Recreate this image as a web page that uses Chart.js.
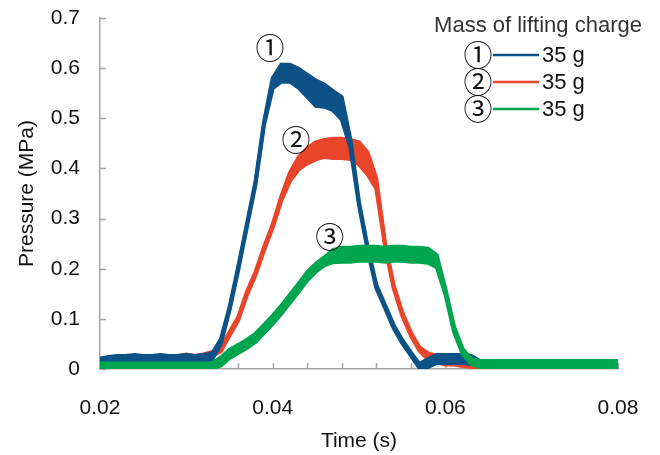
<!DOCTYPE html>
<html>
<head>
<meta charset="utf-8">
<script src="https://cdn.jsdelivr.net/npm/chart.js@4.4.1/dist/chart.umd.min.js"></script>
<style>
  html, body { margin: 0; padding: 0; background: #fff; }
  #wrap { width: 660px; height: 455px; }
</style>
</head>
<body>
<div id="wrap"><canvas id="myChart"></canvas></div>
<script>
// Time axis (s), one reading every 1 ms
const times = [
  0.020, 0.021, 0.022, 0.023, 0.024, 0.025, 0.026, 0.027, 0.028, 0.029,
  0.030, 0.031, 0.032, 0.033, 0.034, 0.035, 0.036, 0.037, 0.038, 0.039,
  0.040, 0.041, 0.042, 0.043, 0.044, 0.045, 0.046, 0.047, 0.048, 0.049,
  0.050, 0.051, 0.052, 0.053, 0.054, 0.055, 0.056, 0.057, 0.058, 0.059,
  0.060, 0.061, 0.062, 0.063, 0.064, 0.065, 0.066, 0.067, 0.068, 0.069,
  0.070, 0.071, 0.072, 0.073, 0.074, 0.075, 0.076, 0.077, 0.078, 0.079,
  0.080,
];

const pressure1 = [
  0.015, 0.018, 0.02, 0.02, 0.022, 0.02, 0.02, 0.022, 0.02, 0.02,
  0.022, 0.02, 0.022, 0.025, 0.055, 0.12, 0.20, 0.285, 0.37, 0.49,
  0.57, 0.59, 0.59, 0.58, 0.565, 0.55, 0.545, 0.535, 0.52, 0.45,
  0.33, 0.24, 0.165, 0.125, 0.085, 0.055, 0.03, 0.006, 0.012, 0.02,
  0.02, 0.02, 0.02, 0.018, 0.012, 0.012, 0.012, 0.012, 0.012, 0.012,
  0.012, 0.012, 0.012, 0.012, 0.012, 0.012, 0.012, 0.012, 0.012, 0.012,
  0.012,
];
const pressure2 = [
  0.012, 0.012, 0.015, 0.015, 0.018, 0.02, 0.02, 0.022, 0.02, 0.022,
  0.025, 0.022, 0.025, 0.03, 0.04, 0.07, 0.10, 0.15, 0.19, 0.24,
  0.285, 0.34, 0.383, 0.41, 0.425, 0.435, 0.44, 0.44, 0.44, 0.438,
  0.43, 0.41, 0.37, 0.25, 0.165, 0.11, 0.07, 0.04, 0.025, 0.02,
  0.015, 0.015, 0.012, 0.01, 0.008, 0.008, 0.008, 0.008, 0.008, 0.008,
  0.008, 0.008, 0.008, 0.008, 0.008, 0.008, 0.008, 0.008, 0.008, 0.008,
  0.008,
];
const pressure3 = [
  0.006, 0.006, 0.006, 0.006, 0.006, 0.006, 0.006, 0.006, 0.006, 0.006,
  0.006, 0.006, 0.006, 0.006, 0.015, 0.03, 0.04, 0.05, 0.062, 0.08,
  0.098, 0.118, 0.14, 0.162, 0.185, 0.202, 0.215, 0.225, 0.228, 0.228,
  0.23, 0.23, 0.23, 0.228, 0.23, 0.23, 0.228, 0.228, 0.226, 0.215,
  0.155, 0.08, 0.035, 0.015, 0.01, 0.01, 0.01, 0.01, 0.01, 0.01,
  0.01, 0.01, 0.01, 0.01, 0.01, 0.01, 0.01, 0.01, 0.01, 0.01,
  0.01,
];

// half-width of the noise band around each trace (MPa)
const spread1 = [
  0.006, 0.006, 0.006, 0.006, 0.006, 0.006, 0.006, 0.006, 0.006, 0.006,
  0.006, 0.006, 0.006, 0.006, 0.004, 0.003, 0.003, 0.003, 0.003, 0.003,
  0.01, 0.017, 0.017, 0.019, 0.022, 0.025, 0.022, 0.019, 0.022, 0.008,
  0.003, 0.003, 0.003, 0.003, 0.003, 0.003, 0.003, 0.004, 0.008, 0.008,
  0.008, 0.008, 0.008, 0.008, 0.004, 0.004, 0.004, 0.004, 0.004, 0.004,
  0.004, 0.004, 0.004, 0.004, 0.004, 0.004, 0.004, 0.004, 0.004, 0.004,
  0.004,
];
const spread2 = [
  0.004, 0.004, 0.004, 0.004, 0.004, 0.004, 0.004, 0.004, 0.004, 0.004,
  0.004, 0.004, 0.004, 0.004, 0.004, 0.003, 0.003, 0.003, 0.003, 0.003,
  0.003, 0.004, 0.008, 0.012, 0.015, 0.017, 0.017, 0.019, 0.019, 0.019,
  0.022, 0.022, 0.01, 0.003, 0.003, 0.003, 0.003, 0.003, 0.006, 0.006,
  0.006, 0.006, 0.006, 0.006, 0.004, 0.004, 0.004, 0.004, 0.004, 0.004,
  0.004, 0.004, 0.004, 0.004, 0.004, 0.004, 0.004, 0.004, 0.004, 0.004,
  0.004,
];
const spread3 = [
  0.005, 0.005, 0.005, 0.005, 0.005, 0.005, 0.005, 0.005, 0.005, 0.005,
  0.005, 0.005, 0.005, 0.005, 0.008, 0.008, 0.008, 0.008, 0.008, 0.008,
  0.008, 0.008, 0.008, 0.008, 0.008, 0.008, 0.008, 0.012, 0.014, 0.014,
  0.014, 0.014, 0.014, 0.014, 0.014, 0.014, 0.014, 0.014, 0.014, 0.012,
  0.005, 0.005, 0.005, 0.005, 0.006, 0.006, 0.006, 0.006, 0.006, 0.006,
  0.006, 0.006, 0.006, 0.006, 0.006, 0.006, 0.006, 0.006, 0.006, 0.006,
  0.006,
];

const seriesMarks = ["①", "②", "③"];
const seriesLabels = ["35 g", "35 g", "35 g"];
const seriesColors = ["#0d5287", "#e8452a", "#00a54f"];
const legendTitle = "Mass of lifting charge";
const xTickLabels = ["0.02", "0.04", "0.06", "0.08"];
// where the circled numbers sit on the plot, in data units [time, pressure]
const markSpots = [[0.0397, 0.64], [0.0427, 0.457], [0.0466, 0.263]];

const FONT = "'Liberation Sans', Arial, sans-serif";
const CJK = "'Noto Sans CJK JP', sans-serif";
const AXIS_GREY = "#a6a6a6";

const allSeries = [pressure1, pressure2, pressure3];
const allSpreads = [spread1, spread2, spread3];
// green on top, then blue, red underneath
const drawOrder = [1, 2, 0];

// each trace = upper edge filled down to lower edge
const datasets = [];
allSeries.forEach((vals, i) => {
  const common = {
    borderColor: seriesColors[i],
    backgroundColor: seriesColors[i],
    borderWidth: 4,
    pointRadius: 0,
    tension: 0,
    order: drawOrder[i],
  };
  datasets.push({
    ...common,
    label: seriesLabels[i],
    data: times.map((t, k) => ({ x: t, y: vals[k] + allSpreads[i][k] })),
    fill: "+1",
  });
  datasets.push({
    ...common,
    label: seriesLabels[i] + " low",
    data: times.map((t, k) => ({ x: t, y: Math.max(0, vals[k] - allSpreads[i][k]) })),
    fill: false,
  });
});

// inward tick marks, legend and circled labels
const extras = {
  id: "extras",
  beforeDatasetsDraw(chart) {
    const { ctx, chartArea, scales } = chart;
    ctx.save();
    ctx.strokeStyle = AXIS_GREY;
    ctx.lineWidth = 1.5;
    scales.x.ticks.forEach((tk) => {
      const px = Math.round(scales.x.getPixelForValue(tk.value)) + 0.5;
      ctx.beginPath();
      ctx.moveTo(px, chartArea.bottom);
      ctx.lineTo(px, chartArea.bottom - 6);
      ctx.stroke();
    });
    scales.y.ticks.forEach((tk) => {
      const py = Math.round(scales.y.getPixelForValue(tk.value)) + 0.5;
      ctx.beginPath();
      ctx.moveTo(chartArea.left, py);
      ctx.lineTo(chartArea.left + 6, py);
      ctx.stroke();
    });
    ctx.restore();
  },
  afterDraw(chart) {
    const { ctx, scales } = chart;
    ctx.save();
    ctx.fillStyle = "#111";
    ctx.textBaseline = "middle";

    // circled numbers on the curves
    ctx.textAlign = "center";
    ctx.font = "29px " + CJK;
    markSpots.forEach((p, i) => {
      ctx.fillText(seriesMarks[i], scales.x.getPixelForValue(p[0]), scales.y.getPixelForValue(p[1]));
    });

    // legend
    ctx.font = "22px " + FONT;
    ctx.fillStyle = "#333";
    ctx.fillText(legendTitle, 538, 26);
    seriesLabels.forEach((lab, i) => {
      const y = 55 + i * 27;
      ctx.fillStyle = "#111";
      ctx.font = "29px " + CJK;
      ctx.textAlign = "center";
      ctx.fillText(seriesMarks[i], 478, y);
      ctx.strokeStyle = seriesColors[i];
      ctx.lineWidth = 2.5;
      ctx.beginPath();
      ctx.moveTo(493, y);
      ctx.lineTo(539, y);
      ctx.stroke();
      ctx.font = "22px " + FONT;
      ctx.textAlign = "left";
      ctx.fillText(lab, 542, y + 1);
    });
    ctx.restore();
  },
};

const ctx = document.getElementById("myChart");

new Chart(ctx, {
  type: "line",
  data: { datasets },
  options: {
    responsive: true,
    maintainAspectRatio: false,
    animation: false,
    layout: { padding: { top: 18, right: 42, left: 0, bottom: 0 } },
    plugins: {
      legend: { display: false },
      tooltip: { enabled: false },
      filler: { drawTime: "beforeDatasetDraw" },
    },
    scales: {
      x: {
        type: "linear",
        min: 0.02,
        max: 0.08,
        grid: { display: false, drawTicks: false },
        border: { color: AXIS_GREY, width: 1.5 },
        ticks: {
          stepSize: 0.004,
          autoSkip: false,
          maxRotation: 0,
          padding: 27,
          color: "#111",
          font: { family: FONT, size: 21 },
          callback: (v) => {
            const hit = xTickLabels.find((s) => Math.abs(parseFloat(s) - v) < 1e-6);
            return hit || "";
          },
        },
        title: {
          display: true,
          text: "Time (s)",
          color: "#111",
          font: { family: FONT, size: 21 },
          padding: { top: 0, bottom: 1 },
        },
        afterFit: (s) => {
          s.height = 86;
          s.paddingLeft = 0;
          s.paddingRight = 0;
        },
      },
      y: {
        min: 0,
        max: 0.7,
        grid: { display: false, drawTicks: false },
        border: { color: AXIS_GREY, width: 1.5 },
        ticks: {
          stepSize: 0.1,
          padding: 20,
          color: "#111",
          font: { family: FONT, size: 21 },
        },
        title: {
          display: true,
          text: "Pressure (MPa)",
          color: "#111",
          font: { family: FONT, size: 21 },
          padding: { top: 15, bottom: 0 },
        },
        afterFit: (s) => {
          s.width = 100;
          s.paddingTop = 0;
          s.paddingBottom = 0;
        },
      },
    },
  },
  plugins: [extras],
});
</script>
</body>
</html>
